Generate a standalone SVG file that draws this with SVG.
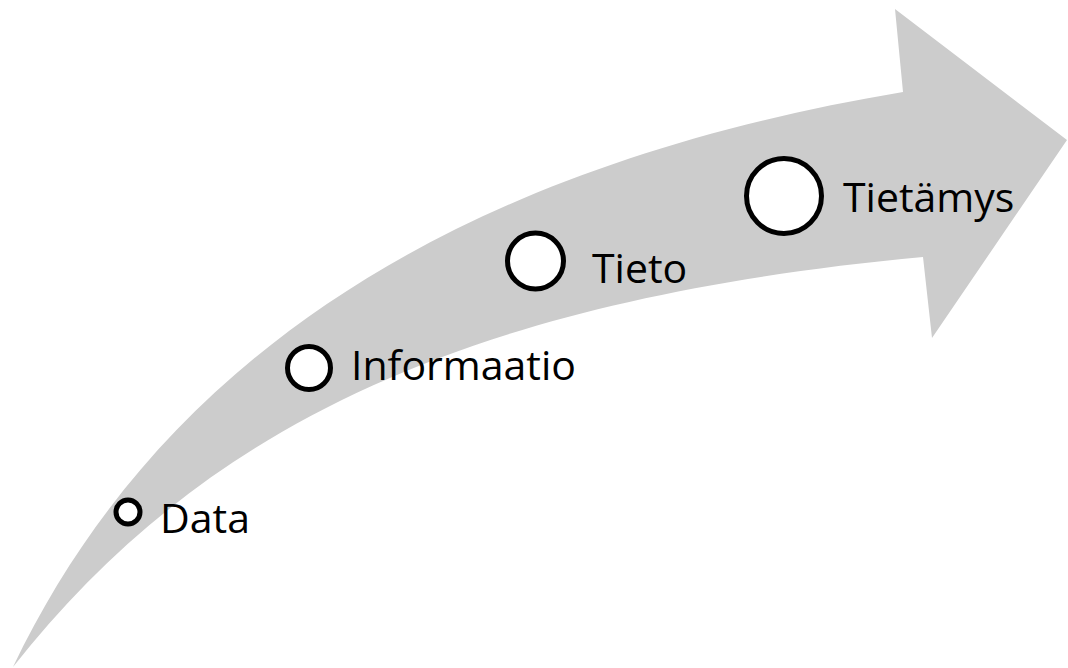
<svg xmlns="http://www.w3.org/2000/svg" width="1068" height="668" viewBox="0 0 1068 668">
<style>
.arrow{fill:#cccccc;stroke:none}
.ring{fill:#ffffff;stroke:#000000}
.lbl{font-family:"Open Sans","Noto Sans","Liberation Sans",sans-serif;font-size:41px;fill:#000000}
</style>
<rect width="1068" height="668" fill="#ffffff"/>
<g id="connectors">
<path id="arrow" class="arrow" d="M13,667 C150,380 425,172 903,92 L895,9 L1067,140 L932,338 L923,257 C460,300 200,430 13,667 Z"/>
</g>
<g id="node-data">
<circle class="ring" cx="128" cy="512" r="12" stroke-width="5"/>
<text class="lbl" x="160" y="533">Data</text>
</g>
<g id="node-informaatio">
<circle class="ring" cx="309" cy="368" r="21.5" stroke-width="5"/>
<text class="lbl" x="351" y="380">Informaatio</text>
</g>
<g id="node-tieto">
<circle class="ring" cx="535.5" cy="261" r="28" stroke-width="5"/>
<text class="lbl" x="592" y="283">Tieto</text>
</g>
<g id="node-tietamys">
<circle class="ring" cx="784" cy="196" r="37.5" stroke-width="5"/>
<text class="lbl" x="843" y="212">Tietämys</text>
</g>
</svg>
